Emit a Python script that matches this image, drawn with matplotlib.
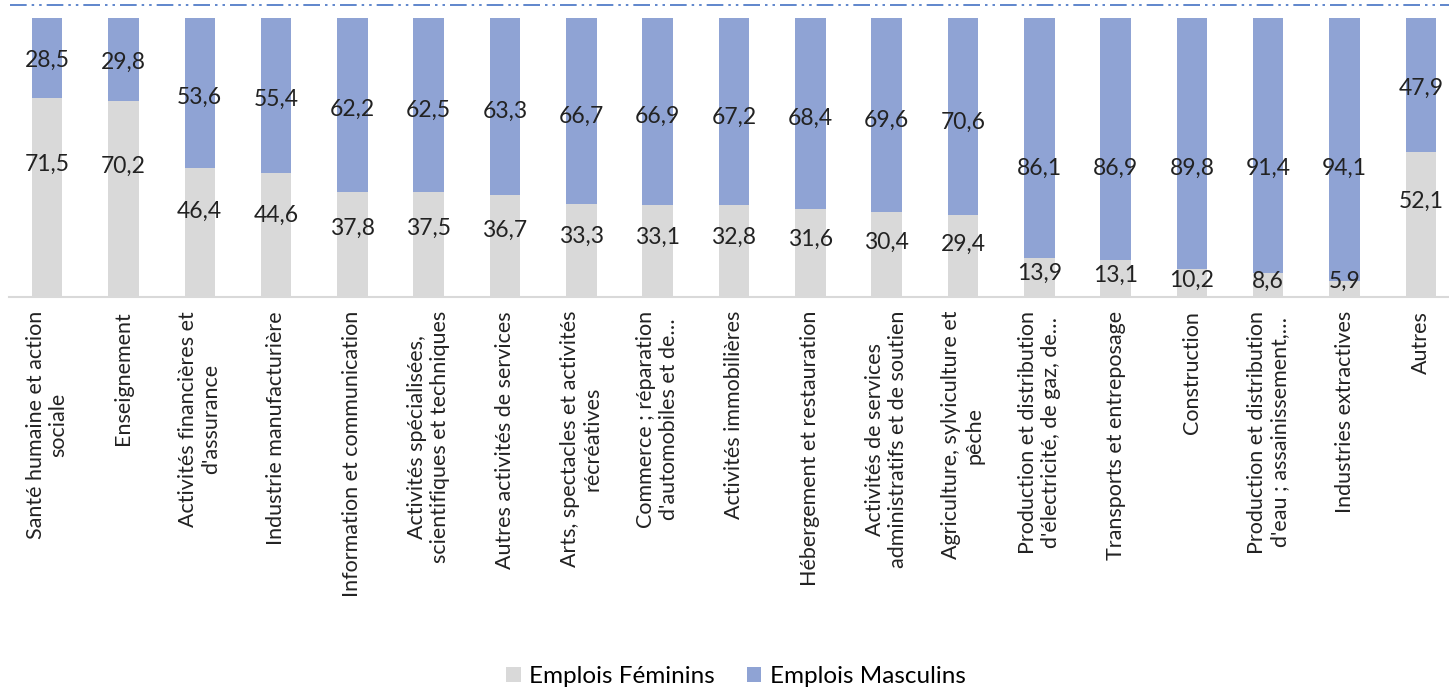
import numpy as np
import matplotlib.pyplot as plt
from matplotlib.lines import Line2D

plt.rcParams['font.family'] = ['Lato', 'DejaVu Sans']

# Categories (tick labels, wrapped as in the original)
categories = [
    "Santé humaine et action\nsociale",
    "Enseignement",
    "Activités financières et\nd'assurance",
    "Industrie manufacturière",
    "Information et communication",
    "Activités spécialisées,\nscientifiques et techniques",
    "Autres activités de services",
    "Arts, spectacles et activités\nrécréatives",
    "Commerce ; réparation\nd'automobiles et de…",
    "Activités immobilières",
    "Hébergement et restauration",
    "Activités de services\nadministratifs et de soutien",
    "Agriculture, sylviculture et\npêche",
    "Production et distribution\nd'électricité, de gaz, de…",
    "Transports et entreposage",
    "Construction",
    "Production et distribution\nd'eau ; assainissement,…",
    "Industries extractives",
    "Autres",
]

feminins = [71.5, 70.2, 46.4, 44.6, 37.8, 37.5, 36.7, 33.3, 33.1, 32.8,
            31.6, 30.4, 29.4, 13.9, 13.1, 10.2, 8.6, 5.9, 52.1]
masculins = [28.5, 29.8, 53.6, 55.4, 62.2, 62.5, 63.3, 66.7, 66.9, 67.2,
             68.4, 69.6, 70.6, 86.1, 86.9, 89.8, 91.4, 94.1, 47.9]

grey = '#d9d9d9'
blue = '#8fa3d4'

fig = plt.figure(figsize=(14.49, 6.95), dpi=100)
ax = fig.add_axes([9 / 1449, 398 / 695, 1450 / 1449, 279 / 695])

x = np.arange(len(categories))
fem = np.array(feminins)
mas = np.array(masculins)

ax.bar(x, fem, width=0.4, color=grey, label='Emplois Féminins')
ax.bar(x, mas, width=0.4, bottom=fem, color=blue, label='Emplois Masculins')

# label placement (the original labels are not exactly centred)
fem_pos = np.maximum(0.68 * fem - 1, 5.5)
mas_pos = 100 - np.interp(mas, [0, 72, 86, 100], [0, 38, 54, 54])
for i in range(len(x)):
    ax.text(x[i], fem_pos[i], f"{fem[i]:.1f}".replace('.', ','),
            ha='center', va='center', fontsize=16.5, color='#222222')
    ax.text(x[i], mas_pos[i], f"{mas[i]:.1f}".replace('.', ','),
            ha='center', va='center', fontsize=16.5, color='#222222')

ax.set_xlim(-0.5, len(x) - 0.5)
ax.set_ylim(0, 100)
ax.set_yticks([])
for s in ['top', 'right', 'left']:
    ax.spines[s].set_visible(False)
ax.spines['bottom'].set_color('#d9d9d9')
ax.spines['bottom'].set_linewidth(1.5)
ax.set_xticks(x)
ax.set_xticklabels(categories, rotation=90, fontsize=15.5, color='#222222',
                   ha='center', va='top', multialignment='center')
ax.tick_params(axis='x', length=0, pad=10)

# dash-dot line at the very top
fig.add_artist(Line2D([10 / 1449, 1.0], [690 / 695, 690 / 695],
                      transform=fig.transFigure, color='#4472c4', lw=1.2,
                      linestyle=(0, (10, 3, 1.5, 3, 1.5, 3))))

fig.legend(loc='lower center', bbox_to_anchor=(0.508, -0.02), ncol=2,
           frameon=False, fontsize=17.5, handlelength=0.6, handleheight=0.6,
           columnspacing=1.3, handletextpad=0.35)

fig.savefig('out.png', dpi=100)
